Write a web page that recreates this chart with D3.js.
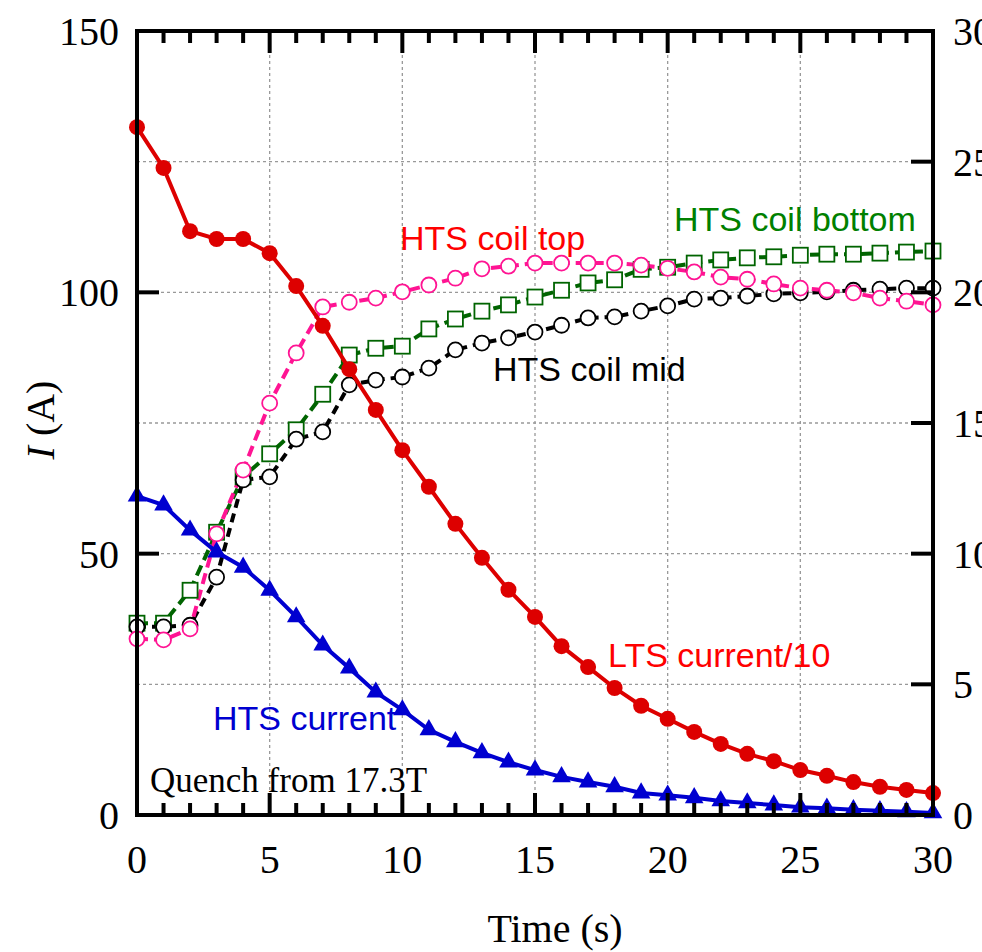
<!DOCTYPE html>
<html lang="en">
<head>
    <meta charset="UTF-8">
    <title>Quench from 17.3T</title>
    <style>
        body { margin: 0; background: #fff; }
        .tick-label { font-family: "Liberation Serif", "Times New Roman", serif; font-size: 40px; }
        .series-label { font-family: "Liberation Sans", Arial, sans-serif; font-size: 34px; }
    </style>
    <script src="https://cdn.jsdelivr.net/npm/d3@7"></script>
</head>
<body>
<svg class="chart" width="982" height="952"></svg>
<script>
    // time axis, seconds
    const time = d3.range(0, 31);

    // left axis, A
    const ltsCurrent10 = [131.6, 123.8, 111.7, 110.2, 110.2, 107.5, 101.2, 93.6, 85.3, 77.5,
        69.8, 62.8, 55.7, 49.2, 43.1, 37.9, 32.3, 28.3, 24.3, 20.9,
        18.4, 15.9, 13.6, 11.7, 10.3, 8.6, 7.5, 6.3, 5.4, 4.8, 4.2];
    const htsCurrent = [61.0, 59.3, 54.5, 50.3, 47.4, 43.0, 37.9, 32.5, 28.1, 23.5,
        20.1, 16.3, 14.0, 11.9, 10.1, 8.6, 7.3, 6.3, 5.4, 4.2,
        3.8, 3.3, 2.7, 2.3, 1.9, 1.5, 1.3, 1.0, 0.8, 0.6, 0.4];

    // right axis
    const coilTop = [6.74, 6.70, 7.12, 10.76, 13.2, 15.76, 17.68, 19.44, 19.62, 19.78,
        20.02, 20.28, 20.54, 20.9, 21.0, 21.12, 21.12, 21.12, 21.12, 21.04,
        20.92, 20.78, 20.58, 20.5, 20.32, 20.16, 20.08, 19.98, 19.78, 19.66, 19.52];
    const coilBottom = [7.34, 7.34, 8.6, 10.82, 12.94, 13.82, 14.74, 16.1, 17.6, 17.86,
        17.94, 18.6, 18.98, 19.28, 19.52, 19.82, 20.08, 20.36, 20.48, 20.88,
        20.96, 21.12, 21.24, 21.32, 21.36, 21.42, 21.46, 21.46, 21.5, 21.54, 21.58];
    const coilMid = [7.2, 7.2, 7.26, 9.1, 12.82, 12.94, 14.38, 14.66, 16.46, 16.64,
        16.76, 17.1, 17.8, 18.06, 18.26, 18.48, 18.74, 19.02, 19.06, 19.28,
        19.48, 19.74, 19.78, 19.86, 19.94, 19.98, 20.02, 20.08, 20.12, 20.16, 20.16];

    const leftTicks = [0, 50, 100, 150];
    const rightTicks = [0, 5, 10, 15, 20, 25, 30];
    const xTicks = [0, 5, 10, 15, 20, 25, 30];

    const margin = {left: 137, right: 49, top: 31, bottom: 137},
        width = 982 - margin.left - margin.right,
        height = 952 - margin.top - margin.bottom;

    const svg = d3.select('.chart');
    const g = svg.append('g').attr('transform', 'translate(' + margin.left + ',' + margin.top + ')');

    const x = d3.scaleLinear().domain([0, 30]).range([0, width]);
    const yL = d3.scaleLinear().domain([0, 150]).range([height, 0]);
    const yR = d3.scaleLinear().domain([0, 30]).range([height, 0]);

    // grid
    g.append('g').selectAll('line').data([5, 10, 15, 20, 25]).enter().append('line')
        .attr('x1', d => x(d)).attr('x2', d => x(d)).attr('y1', 0).attr('y2', height)
        .attr('stroke', '#999').attr('stroke-width', 1.3).attr('stroke-dasharray', '3,3');
    g.append('g').selectAll('line').data([25, 50, 75, 100, 125]).enter().append('line')
        .attr('x1', 0).attr('x2', width).attr('y1', d => yL(d)).attr('y2', d => yL(d))
        .attr('stroke', '#999').attr('stroke-width', 1.3).attr('stroke-dasharray', '3,3');

    // series
    function dashedSeries(values, color, dash) {
        g.append('path').datum(values)
            .attr('fill', 'none').attr('stroke', color).attr('stroke-width', 4)
            .attr('stroke-dasharray', dash)
            .attr('d', d3.line().x((d, i) => x(time[i])).y(d => yR(d)));
    }

    dashedSeries(coilBottom, '#006400', '11,6');
    dashedSeries(coilMid, '#000', '9,6');
    dashedSeries(coilTop, '#ff1493', '11,6');

    g.append('g').selectAll('rect').data(coilBottom).enter().append('rect')
        .attr('x', (d, i) => x(time[i]) - 7.5).attr('y', d => yR(d) - 7.5)
        .attr('width', 15).attr('height', 15)
        .attr('fill', '#fff').attr('stroke', '#006400').attr('stroke-width', 1.8);
    g.append('g').selectAll('circle').data(coilMid).enter().append('circle')
        .attr('cx', (d, i) => x(time[i])).attr('cy', d => yR(d)).attr('r', 7.5)
        .attr('fill', '#fff').attr('stroke', '#000').attr('stroke-width', 1.8);
    g.append('g').selectAll('circle').data(coilTop).enter().append('circle')
        .attr('cx', (d, i) => x(time[i])).attr('cy', d => yR(d)).attr('r', 7.5)
        .attr('fill', '#fff').attr('stroke', '#ff1493').attr('stroke-width', 1.8);

    // HTS current
    g.append('path').datum(htsCurrent)
        .attr('fill', 'none').attr('stroke', '#0000d0').attr('stroke-width', 4)
        .attr('d', d3.line().x((d, i) => x(time[i])).y(d => yL(d)));
    g.append('g').selectAll('path').data(htsCurrent).enter().append('path')
        .attr('d', d3.symbol().type(d3.symbolTriangle).size(150))
        .attr('transform', (d, i) => 'translate(' + x(time[i]) + ',' + yL(d) + ')')
        .attr('fill', '#0000d0');

    // LTS current /10
    g.append('path').datum(ltsCurrent10)
        .attr('fill', 'none').attr('stroke', '#dd0000').attr('stroke-width', 4)
        .attr('d', d3.line().x((d, i) => x(time[i])).y(d => yL(d)));
    g.append('g').selectAll('circle').data(ltsCurrent10).enter().append('circle')
        .attr('cx', (d, i) => x(time[i])).attr('cy', d => yL(d)).attr('r', 8)
        .attr('fill', '#dd0000');

    // frame
    g.append('rect').attr('width', width).attr('height', height)
        .attr('fill', 'none').attr('stroke', '#000').attr('stroke-width', 4);

    // ticks (inward)
    const minor = d3.range(0, 31);
    g.append('g').selectAll('line').data(minor).enter().append('line')
        .attr('x1', d => x(d)).attr('x2', d => x(d))
        .attr('y1', height).attr('y2', d => height - (d % 5 === 0 ? 22 : 12))
        .attr('stroke', '#000').attr('stroke-width', 4);
    g.append('g').selectAll('line').data(minor).enter().append('line')
        .attr('x1', d => x(d)).attr('x2', d => x(d))
        .attr('y1', 0).attr('y2', d => (d % 5 === 0 ? 22 : 12))
        .attr('stroke', '#000').attr('stroke-width', 4);
    g.append('g').selectAll('line').data(leftTicks).enter().append('line')
        .attr('x1', 0).attr('x2', 22).attr('y1', d => yL(d)).attr('y2', d => yL(d))
        .attr('stroke', '#000').attr('stroke-width', 4);
    g.append('g').selectAll('line').data(rightTicks).enter().append('line')
        .attr('x1', width).attr('x2', width - 22).attr('y1', d => yR(d)).attr('y2', d => yR(d))
        .attr('stroke', '#000').attr('stroke-width', 4);

    // tick labels
    g.append('g').selectAll('text').data(leftTicks).enter().append('text')
        .attr('class', 'tick-label').attr('text-anchor', 'end')
        .attr('x', -18).attr('y', d => yL(d) + 14).text(d => d);
    g.append('g').selectAll('text').data(rightTicks).enter().append('text')
        .attr('class', 'tick-label').attr('text-anchor', 'start')
        .attr('x', width + 20).attr('y', d => yR(d) + 14).text(d => d);
    g.append('g').selectAll('text').data(xTicks).enter().append('text')
        .attr('class', 'tick-label').attr('text-anchor', 'middle')
        .attr('x', d => x(d)).attr('y', height + 58).text(d => d);

    // axis titles
    svg.append('text').attr('class', 'tick-label').attr('text-anchor', 'middle')
        .attr('x', 555).attr('y', 942).text('Time (s)');
    const yt = svg.append('text').attr('class', 'tick-label').attr('text-anchor', 'middle')
        .attr('transform', 'translate(54,420) rotate(-90)');
    yt.append('tspan').attr('font-style', 'italic').text('I');
    yt.append('tspan').text(' (A)');

    // annotations
    const notes = [
        {t: 'HTS coil top', x: 400, y: 250, c: '#ff0000'},
        {t: 'HTS coil bottom', x: 674, y: 231, c: '#008000'},
        {t: 'HTS coil mid', x: 493, y: 381, c: '#000'},
        {t: 'LTS current/10', x: 608, y: 667, c: '#ff0000'},
        {t: 'HTS current', x: 213, y: 730, c: '#0000d0'}
    ];
    svg.append('g').selectAll('text').data(notes).enter().append('text')
        .attr('class', 'series-label').attr('x', d => d.x).attr('y', d => d.y)
        .attr('fill', d => d.c).text(d => d.t);
    svg.append('text').attr('class', 'tick-label').style('font-size', '35px')
        .attr('x', 150).attr('y', 792).text('Quench from 17.3T');
</script>
</body>
</html>
